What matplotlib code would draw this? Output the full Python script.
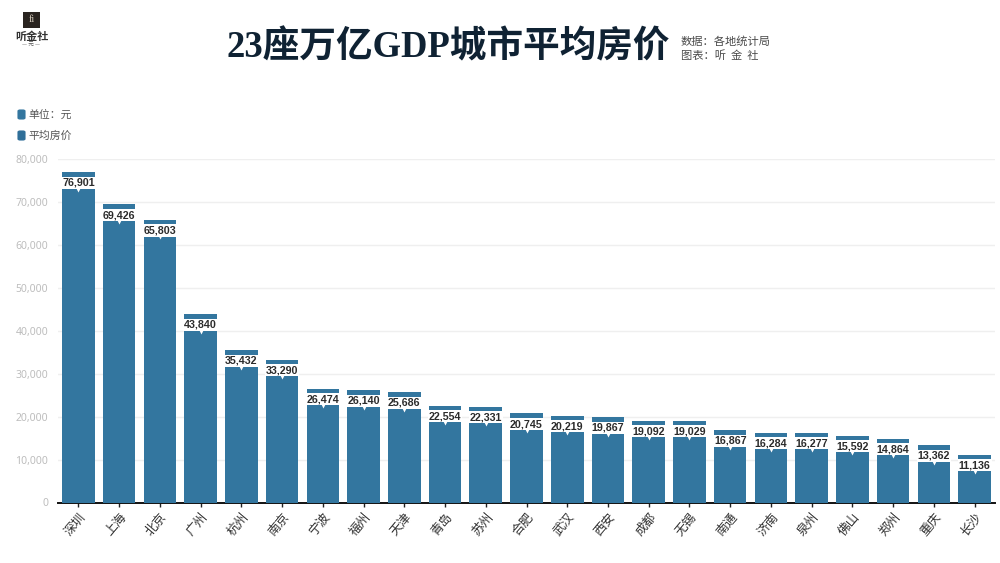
import matplotlib
matplotlib.use("Agg")
import matplotlib.pyplot as plt
import matplotlib.transforms as mtrans
from matplotlib.patches import FancyBboxPatch, Rectangle
from matplotlib.ticker import FuncFormatter

cities = ["深圳", "上海", "北京", "广州", "杭州", "南京", "宁波", "福州", "天津", "青岛", "苏州", "合肥",
          "武汉", "西安", "成都", "无锡", "南通", "济南", "泉州", "佛山", "郑州", "重庆", "长沙"]
prices = [76901, 69426, 65803, 43840, 35432, 33290, 26474, 26140, 25686, 22554, 22331, 20745,
          20219, 19867, 19092, 19029, 16867, 16284, 16277, 15592, 14864, 13362, 11136]
y_ticks = [0, 10000, 20000, 30000, 40000, 50000, 60000, 70000, 80000]
title = "23座万亿GDP城市平均房价"
source_lines = ["数据：各地统计局", "图表：听  金  社"]
legend_items = ["单位：元", "平均房价"]

W, H = 1000, 563
CJK = ["Noto Sans CJK SC", "DejaVu Sans"]
plt.rcParams["font.family"] = CJK
BLUE = "#33769f"

fig = plt.figure(figsize=(W / 100, H / 100), dpi=100, facecolor="white")
def fx(x): return x / W
def fy(y): return 1 - y / H

ax = fig.add_axes([fx(58), fy(502.5), (995 - 58) / W, (502.5 - 159) / H])
positions = list(range(len(cities)))
ax.bar(positions, prices, width=0.8, color=BLUE, zorder=3)
ax.set_xlim(-0.5, len(cities) - 0.5)
ax.set_ylim(0, 80000)
ax.set_yticks(y_ticks)
ax.yaxis.set_major_formatter(FuncFormatter(lambda v, _: f"{int(v):,}"))
ax.set_xticks(positions)
ax.set_xticklabels(cities, rotation=50, ha="right", va="top", rotation_mode="anchor",
                   fontsize=9.1, color="#333333")
ax.tick_params(axis="y", length=0, labelsize=7.5, labelcolor="#bdbdbd", pad=7)
ax.tick_params(axis="x", length=3, width=1, color="#222222", pad=3)
for lab in ax.get_yticklabels():
    lab.set_family(["Noto Sans", "DejaVu Sans"])
ax.grid(axis="y", color="#efefef", linewidth=1, zorder=0)
ax.set_axisbelow(True)
for s in ["top", "right", "left"]:
    ax.spines[s].set_visible(False)
ax.spines["bottom"].set_color("#111111")
ax.spines["bottom"].set_linewidth(1.4)
ax.spines["bottom"].set_zorder(2)

notch = mtrans.offset_copy(ax.transData, fig=fig, x=0, y=-16.5, units="dots")
for i, v in enumerate(prices):
    ax.annotate(f"{v:,}", xy=(i, v), xytext=(0, -10.6 * 0.72), textcoords="offset points",
                ha="center", va="center", fontsize=7.7, fontweight="bold", color="#2b2b2b",
                family=["Liberation Sans", "DejaVu Sans"], zorder=6, annotation_clip=False,
                bbox=dict(boxstyle="square,pad=0.1", fc="white", ec="none"))
    ax.plot([i], [v], marker="v", ms=4, color="white", mec="none", transform=notch,
            zorder=5, clip_on=False)

# title block
fig.text(fx(448.5), fy(48), title, ha="center", va="center", fontsize=26.4, fontweight="bold",
         family=["Liberation Serif", "Noto Sans CJK SC"], color="#0f2233")
fig.text(fx(681), fy(41), source_lines[0], ha="left", va="center", fontsize=8.1, color="#4a4a4a")
fig.text(fx(681), fy(56), source_lines[1], ha="left", va="center", fontsize=8.1, color="#4a4a4a")

# logo
fig.add_artist(Rectangle((fx(23), fy(28)), 17 / W, 16 / H, transform=fig.transFigure,
                         fc="#2a2420", ec="none"))
fig.text(fx(31.5), fy(20), "fi", ha="center", va="center", fontsize=7, color="#d8cfc0",
         family=["Liberation Serif"])
fig.text(fx(31.5), fy(36), "听金社", ha="center", va="center", fontsize=8, fontweight="bold",
         color="#333333")
fig.text(fx(31.5), fy(44), "— 元 —", ha="center", va="center", fontsize=4, color="#555555")

# legend
for txt, yc, col in zip(legend_items, [114.5, 135.5], ["#33769f", "#2f6f99"]):
    fig.add_artist(FancyBboxPatch((fx(18), fy(yc + 4.5)), 7 / W, 9 / H, transform=fig.transFigure,
                                  boxstyle="round,pad=0,rounding_size=0.002",
                                  mutation_aspect=1, fc=col, ec=col, lw=0.8))
    fig.text(fx(28), fy(yc), txt, ha="left", va="center", fontsize=7.8, color="#555555")

fig.savefig("out.png", dpi=100)
